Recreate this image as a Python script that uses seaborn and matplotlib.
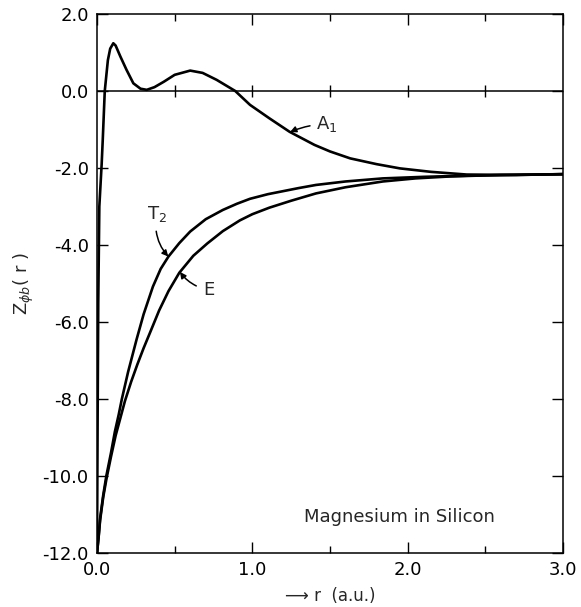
import numpy as np
import pandas as pd
import matplotlib
matplotlib.use("Agg")
import matplotlib.pyplot as plt
import seaborn as sns
from matplotlib.ticker import MultipleLocator

# ---- data ----
a1_r = [0.0, 0.004, 0.008, 0.015, 0.03, 0.037, 0.05, 0.07, 0.085, 0.105, 0.12, 0.15,
        0.19, 0.234, 0.28, 0.32, 0.37, 0.43, 0.50, 0.60, 0.68, 0.77, 0.89, 0.985,
        1.11, 1.24, 1.40, 1.50, 1.63, 1.80, 1.95, 2.15, 2.38, 2.70, 3.0]
a1_v = [-12.0, -8.5, -5.5, -3.0, -1.9, -1.27, 0.0, 0.8, 1.1, 1.24, 1.18, 0.9,
        0.55, 0.2, 0.06, 0.03, 0.1, 0.24, 0.42, 0.53, 0.47, 0.29, 0.0, -0.36,
        -0.71, -1.06, -1.40, -1.57, -1.75, -1.90, -2.01, -2.10, -2.17, -2.18, -2.16]

t2_r = [0.0, 0.01, 0.02, 0.04, 0.06, 0.09, 0.115, 0.14, 0.16, 0.20, 0.255, 0.30,
        0.36, 0.41, 0.46, 0.53, 0.60, 0.70, 0.81, 0.90, 0.985, 1.1, 1.2, 1.3,
        1.41, 1.6, 1.84, 2.1, 2.38, 2.7, 3.0]
t2_v = [-12.0, -11.6, -11.1, -10.5, -10.0, -9.4, -8.85, -8.4, -8.0, -7.3, -6.45, -5.8,
        -5.08, -4.62, -4.30, -3.95, -3.65, -3.33, -3.09, -2.93, -2.80, -2.68, -2.60, -2.52,
        -2.44, -2.35, -2.27, -2.23, -2.20, -2.18, -2.16]

e_r = [0.0, 0.01, 0.02, 0.04, 0.062, 0.09, 0.12, 0.15, 0.18, 0.22, 0.26, 0.30, 0.34,
       0.40, 0.46, 0.53, 0.62, 0.71, 0.81, 0.92, 1.0, 1.11, 1.25, 1.41, 1.6, 1.84,
       2.05, 2.27, 2.6, 3.0]
e_v = [-12.0, -11.6, -11.15, -10.55, -10.05, -9.5, -8.95, -8.5, -8.05, -7.55, -7.1, -6.68, -6.29,
       -5.70, -5.20, -4.72, -4.28, -3.96, -3.64, -3.36, -3.20, -3.03, -2.85, -2.66, -2.50, -2.35,
       -2.27, -2.22, -2.18, -2.16]

series_names = ["A1", "T2", "E"]
x_major = [0.0, 1.0, 2.0, 3.0]
x_labels = ["0.0", "1.0", "2.0", "3.0"]
y_major = [2.0, 0.0, -2.0, -4.0, -6.0, -8.0, -10.0, -12.0]
y_labels = ["2.0", "0.0", "-2.0", "-4.0", "-6.0", "-8.0", "-10.0", "-12.0"]
zero_line_ticks = [0.5, 1.0, 1.5, 2.0, 2.5]

df = pd.concat([
    pd.DataFrame({"r": a1_r, "Z": a1_v, "series": "A1"}),
    pd.DataFrame({"r": t2_r, "Z": t2_v, "series": "T2"}),
    pd.DataFrame({"r": e_r, "Z": e_v, "series": "E"}),
], ignore_index=True)

sns.set_theme(style="white")
plt.rcParams["font.family"] = ["DejaVu Sans"]
plt.rcParams["mathtext.fontset"] = "dejavusans"

fig = plt.figure(figsize=(5.81, 6.07), dpi=100)
ax = fig.add_axes([97 / 581, 1 - 553 / 607, (563 - 97) / 581, (553 - 14) / 607])

sns.lineplot(data=df, x="r", y="Z", hue="series", hue_order=series_names,
             palette={"A1": "black", "T2": "black", "E": "black"},
             sort=False, estimator=None, linewidth=1.9, legend=False, ax=ax)
for ln in ax.lines:
    ln.set_solid_joinstyle("round")
    ln.set_solid_capstyle("round")

ax.axhline(0, color="black", lw=1.1, zorder=1)
ax.plot(zero_line_ticks, [0] * len(zero_line_ticks), ls="none", marker="|",
        ms=8, mew=1.0, color="black")

ax.set_xlim(0, 3.0)
ax.set_ylim(-12, 2)
ax.set_xticks(x_major)
ax.set_xticklabels(x_labels)
ax.xaxis.set_minor_locator(MultipleLocator(0.5))
ax.set_yticks(y_major)
ax.set_yticklabels(y_labels)

for s in ax.spines.values():
    s.set_visible(True)
    s.set_color("black")
    s.set_linewidth(1.1)

ax.tick_params(axis="both", which="major", direction="in", length=8, width=1.0,
               color="black", labelsize=13, labelcolor="black", pad=6)
ax.tick_params(axis="x", which="minor", direction="in", length=5, width=1.0,
               color="black", bottom=True, top=True)
ax.tick_params(axis="x", which="major", top=True, bottom=True)
ax.tick_params(axis="y", which="major", left=True, right=True)

ax.set_xlabel("\u27f6 r  (a.u.)", fontsize=12)
ax.xaxis.set_label_coords(0.5, -0.064)
ax.set_ylabel(r"Z$_{\phi b}$( r )", fontsize=13)
ax.yaxis.set_label_coords(-0.13, 0.5)

arrow_kw = dict(arrowstyle="-|>", color="black", lw=1.1, mutation_scale=9)
ax.annotate(r"A$_1$", xy=(1.243, -1.065), xytext=(1.41, -0.86), fontsize=13,
            ha="left", va="center",
            arrowprops=dict(**arrow_kw, shrinkA=2, shrinkB=0,
                            connectionstyle="arc3,rad=0.1"))
ax.annotate(r"T$_2$", xy=(0.459, -4.30), xytext=(0.386, -3.19), fontsize=13,
            ha="center", va="center",
            arrowprops=dict(**arrow_kw, shrinkA=3, shrinkB=0,
                            connectionstyle="arc3,rad=0.25"))
ax.annotate("E", xy=(0.534, -4.70), xytext=(0.721, -5.17), fontsize=13,
            ha="center", va="center",
            arrowprops=dict(**arrow_kw, shrinkA=3, shrinkB=0,
                            connectionstyle="arc3,rad=-0.2"))

ax.text(1.95, -11.07, "Magnesium in Silicon", fontsize=13, ha="center", va="center")

fig.savefig("out.png", dpi=100)
